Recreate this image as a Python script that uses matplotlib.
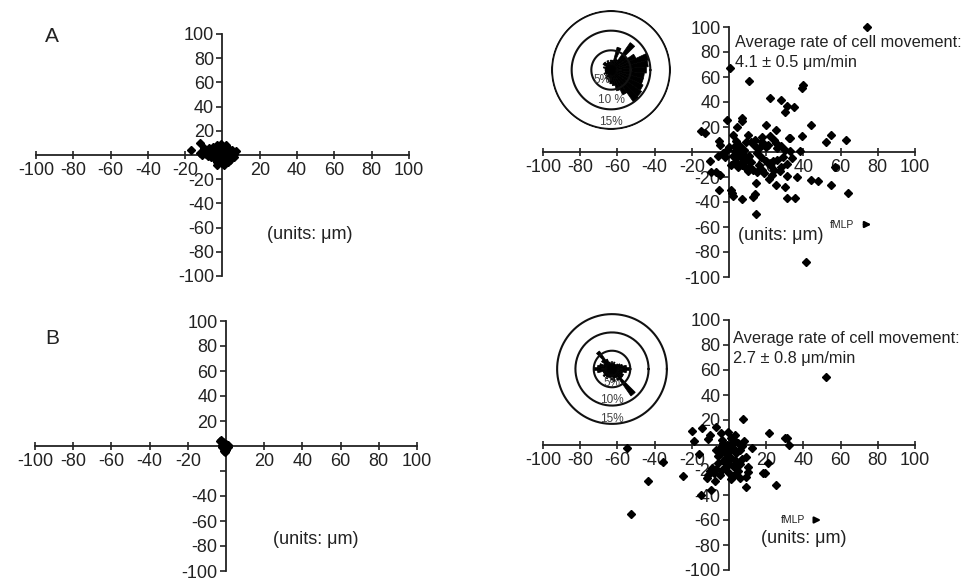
import matplotlib
matplotlib.use("Agg")
import matplotlib.pyplot as plt
import numpy as np

plt.rcParams['font.family'] = ['Liberation Sans', 'DejaVu Sans']
plt.rcParams['axes.unicode_minus'] = False

# --- data (units: um) ---
# left column: control cells barely move
la_x = [-17, -12, -12, -11, -10, -9, -8, -8, -7, -6, -6, -5, -5, -4, -4, -3, -3, -2, -2, -1,
        -1, 0, 0, 1, 1, 2, 2, 3, 3, 4, 4, 5, 5, 6, 7, 6, -3, -1, 1, 2, -2, 0, 3, -5, -10, -7, 6, 4, -1, 1]
la_y = [4, 10, 2, 0, 5, 1, 3, -1, 6, 2, -2, 7, 1, 4, -3, 8, -6, 2, -4, 9,
        -1, 5, -7, 3, -5, 1, -3, 6, -2, 2, -1, 4, 0, 2, 3, 1, -8, 6, -8, 8, 0, -2, -6, -1, 6, 4, -2, -4, 3, 0]

lb_x = [-3, -2.5, -2, -2, -1.5, -1, -1, -0.5, 0, 0, 0.5, 1, -1, -2, 0, 1, -1.5, -0.5]
lb_y = [4, 5, 3, 1, 2, 0, -2, 1, -1, -3, 0, -1, -4, -1, 2, 1, 3, -5]

# right column A: fMLP, 4.1 um/min
ra_x = [74, 0.5, 11, 39, 40, 22, 28, 31, 35, 30, -1, 7, 7, 44, 20, 4.5, -15, -13, 25, 39,
        33, 32, 55, 63, 52, -5.5, -5, 2, 0, -1,
        10, 14, 18, 14, 22, 24, 25, 28, 4, 6, 9, 12, 16, 20, 26, 30, 8, 3, 18, 21, 33, 38, 15,
        -10, -7, -9.5, -5, -5.5, 1, 1.5, 2, 7, 13, 14, 14.5, 14.5, 21.5, 25, 30, 31.4, 35.5,
        36.7, 31, 48, 55, 64, 41.4, 57, 44,
        2, 4, 6, 8, 10, 12, 7, 9, 11, 13, 16, 18, 20, 17, 22, 24, 26, 5, 3, 15, 19, 23, 28, 1,
        -2, -3, -6, 11, 29, 34, 3.2, 5.9, 7.7, 8.6, 11.3, 4.1, 5.9, 10.4, 16.7, 27.4, 31, 23.8]
ra_y = [100, 67, 57, 51, 54, 43, 42, 37, 36, 32, 26, 27, 25, 22, 22, 20, 17, 15, 18, 13,
        11, 11, 14, 10, 8, 9, 6, 14, 4, 2,
        14, 10, 8, 5, 13, 10, 7, 5, 9, 5, 8, 8, 3, 4, 3, 2, 2, 1, 12, 6, 1, 1, -1,
        -7, -16, -16, -18, -30, -30, -33, -35, -37.6, -36, -33.5, -25, -49.6, -21.6, -26.4, -28.3, -37, -37,
        -20.3, -19, -23, -26.4, -33, -87.8, -12, -22,
        -3, -5, -2, -6, -4, -8, -10, -13, -12, -14, -10, -14, -7, -4, -10, -14, -6, -12, -8, -16, -17, -18, -12, -10,
        -4, -1, -3, -3, -4, -5, 5, 2.4, -1.6, -7, -8.3, -4.3, -9.6, -15, -13.6, -15, -9.6, -7]

# right column B: 2.7 um/min
rb_x = [52.3, 7.5, 21.5, 30, 31, 32.2, 12.5, -19.7, -14.3, -7.2, -18.8, -10.4, -11.3, -4.1, -0.5,
        -55, -35.5, -16, -43.3, -25, -52.5, -15, -9.5, -7.7, -11.3, -10.4, -6.8, -4.1, 9.3, 10.2,
        10.2, 9.3, 9, 18.3, 19.2, 21, 25,
        -3, -1, 1, 3, 5, 2, -2, 0, 4, 6, -5, -4, 1, 3, -1, 1, 3, -3, -6, 0, 2, 4, 6, -2,
        -4, -8, 0, 3, 5, 7, -6, -2, 7, 8, -7, -9, -12, 6, 1, -5]
rb_y = [54.4, 20.5, 9.3, 5.8, 5.8, 0, -2.7, 11.2, 13.3, 14.6, 3.2, 8, 4.5, 9.3, 10.6,
        -2, -13.8, -7.2, -28.7, -24.7, -55, -39.8, -36, -28.7, -23.9, -20.5, -19.1, -6.6, -9.3, -17.3,
        -21.2, -25.2, -33.2, -22.6, -22.6, -14.6, -31.9,
        2, 0, 1, 3, 2, -2, -3, -5, -6, -4, -2, 4, 6, 8, -8, -10, -12, -13, -14, -15, -17, -18, -15, -18,
        -20, -22, -22, -23, -21, -11, -9, -11, -1, 3, -4, -18, -26, -26, -27, -24]

# rose diagrams: percentage of cells per 10 degree direction bin
rose_deg = np.arange(0, 360, 10)
rose_a = [9, 9.5, 10, 7, 5, 8.5, 3, 6, 2.5, 2.5, 2, 2.5, 2, 2.5, 2.5, 1.5, 2, 1.5,
          1.5, 1.5, 1.5, 2, 1.5, 2, 2.5, 2.5, 3, 3.5, 4, 5.5, 7, 10, 9.5, 9, 8.5, 8.5]
rose_b = [5, 4, 3, 2.5, 2, 1.5, 1.5, 2, 1.5, 2, 1.5, 2, 3, 6, 3.5, 2.5, 3.5, 4,
          5, 4, 2.5, 2.5, 3, 2.5, 3, 2.5, 2.5, 3, 3.5, 2.5, 3.5, 9, 3.5, 3.5, 3, 4]
ring_pct = [5, 10, 15]

ticks = [-100, -80, -60, -40, -20, 20, 40, 60, 80, 100]

W, H = 970, 581
fig = plt.figure(figsize=(W / 100, H / 100), dpi=100)
INK = '#222222'


def px_box(x0, y0, x1, y1):
    # pixel box (top-left origin) -> figure fraction rect
    return [x0 / W, 1 - y1 / H, (x1 - x0) / W, (y1 - y0) / H]


def cross_axes(rect, xs, ys, hide_y=()):
    ax = fig.add_axes(rect)
    ax.set_xlim(-100, 100)
    ax.set_ylim(-100, 100)
    for s in ['top', 'right']:
        ax.spines[s].set_visible(False)
    for s in ['left', 'bottom']:
        ax.spines[s].set_position('zero')
        ax.spines[s].set_linewidth(1.3)
        ax.spines[s].set_color(INK)
    ax.set_xticks(ticks)
    ax.set_yticks(ticks)
    ax.set_yticklabels(['' if t in hide_y else str(t) for t in ticks])
    ax.tick_params(axis='x', direction='inout', length=6, width=1.2, labelsize=13,
                   colors=INK, pad=2)
    ax.tick_params(axis='y', direction='out', length=4, width=1.2, labelsize=13,
                   colors=INK, pad=2)
    ax.patch.set_alpha(0)
    ax.plot(xs, ys, linestyle='none', marker='D', markersize=4, color='black',
            clip_on=False, zorder=4)
    return ax


def rose(rect, pct, rmax, labels):
    ax = fig.add_axes(rect, projection='polar')
    ax.patch.set_alpha(0)
    th = np.deg2rad(rose_deg)
    ax.bar(th, pct, width=np.deg2rad(10), color='black', edgecolor='black', linewidth=0.5)
    circ = np.linspace(0, 2 * np.pi, 200)
    for r in ring_pct:
        ax.plot(circ, np.full_like(circ, r), color='#111111', lw=1.5)
    for txt, ang, r in labels:
        ax.text(np.deg2rad(ang), r, txt, fontsize=8.5, color='#444444', ha='center', va='center')
    ax.set_ylim(0, rmax)
    ax.set_xticks([])
    ax.set_yticks([])
    ax.grid(False)
    ax.spines['polar'].set_visible(False)
    return ax


ax1 = cross_axes(px_box(36, 34, 409, 276), la_x, la_y)
ax1.text(47, -66, '(units: μm)', fontsize=13, ha='center', va='center', color=INK)

ax2 = cross_axes(px_box(35, 321, 417, 571), lb_x, lb_y, hide_y=(-20,))
ax2.text(47, -75, '(units: μm)', fontsize=13, ha='center', va='center', color=INK)

ax3 = cross_axes(px_box(543, 27, 915, 277), ra_x, ra_y)
ax3.text(28, -67, '(units: μm)', fontsize=13, ha='center', va='center', color=INK)
ax3.text(54, -58, 'fMLP', fontsize=7.5, ha='left', va='center', color=INK)
ax3.annotate('', xy=(78, -58), xytext=(71, -58),
             arrowprops=dict(arrowstyle='-|>', color='black', lw=1.6, mutation_scale=9))

ax4 = cross_axes(px_box(543, 320, 915, 570), rb_x, rb_y)
ax4.text(40, -75, '(units: μm)', fontsize=13, ha='center', va='center', color=INK)
ax4.text(28, -60, 'fMLP', fontsize=7.5, ha='left', va='center', color=INK)
ax4.annotate('', xy=(51, -60), xytext=(45, -60),
             arrowprops=dict(arrowstyle='-|>', color='black', lw=1.6, mutation_scale=9))

rose(px_box(551, 10, 671, 130), rose_a, 15.25,
     [('5%', 228, 3.4), ('10 %', 270, 7.6), ('15%', 270, 13.2)])
rose(px_box(552, 309, 672, 429), rose_b, 16.4,
     [('5%', 270, 3.7), ('10%', 270, 8.5), ('15%', 270, 13.6)])

fig.text(52 / W, 1 - 37 / H, 'A', fontsize=15, ha='center', va='center', color=INK)
fig.text(52 / W, 1 - 339 / H, 'B', fontsize=15, ha='center', va='center', color=INK)

fig.text(735 / W, 1 - 42 / H, 'Average rate of cell movement:', fontsize=11.8,
         ha='left', va='center', color=INK)
fig.text(735 / W, 1 - 62 / H, '4.1 ± 0.5 μm/min', fontsize=11.8,
         ha='left', va='center', color=INK)
fig.text(733 / W, 1 - 338 / H, 'Average rate of cell movement:', fontsize=11.8,
         ha='left', va='center', color=INK)
fig.text(733 / W, 1 - 359 / H, '2.7 ± 0.8 μm/min', fontsize=11.8,
         ha='left', va='center', color=INK)

fig.savefig('out.png', dpi=100)
